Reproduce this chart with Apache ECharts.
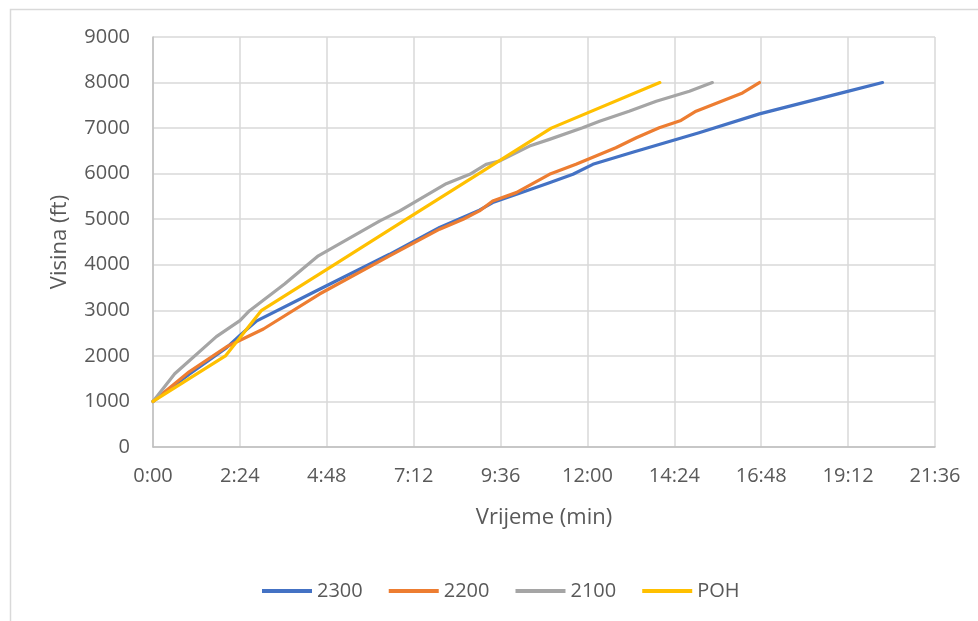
<!DOCTYPE html>
<html>
<head>
<meta charset="utf-8">
<script src="https://cdn.jsdelivr.net/npm/echarts@6/dist/echarts.min.js"></script>
<style>html,body{margin:0;padding:0;background:#fff}#c{width:978px;height:621px}</style>
</head>
<body>
<div id="c"></div>
<script>
// time in seconds, altitude in ft
const seriesNames = ['2300', '2200', '2100', 'POH'];
const s2300 = [[0,1000],[60,1600],[122,2180],[144,2450],[172,2770],[271,3430],[392,4230],[475,4820],[541,5200],[563,5365],[618,5621],[657,5803],[696,5986],[729,6205],[795,6470],[905,6900],[1005,7313],[1148,7795],[1209,8000]];
const s2200 = [[0,1000],[60,1650],[122,2200],[183,2590],[276,3358],[392,4197],[475,4781],[514,5000],[541,5182],[563,5402],[602,5584],[657,5986],[701,6205],[734,6387],[767,6569],[801,6788],[839,7007],[875,7168],[900,7372],[977,7773],[1005,8000]];
const s2100 = [[0,1000],[36,1607],[105,2424],[144,2774],[160,2993],[218,3577],[274,4197],[376,4964],[409,5182],[486,5781],[525,5986],[552,6205],[574,6278],[624,6606],[657,6753],[712,7007],[740,7153],[789,7372],[834,7591],[889,7810],[927,8000]];
const sPOH = [[0,1000],[120,2000],[180,3000],[300,4000],[420,5000],[540,6000],[660,7000],[840,8000]];
const colors = ['#4472C4', '#ED7D31', '#A5A5A5', '#FFC000'];
const dataSets = [s2300, s2200, s2100, sPOH];

const font = 'Open Sans';
const chart = echarts.init(document.getElementById('c'), null, {renderer: 'canvas'});
function fmt(v) {
  const m = Math.floor(v / 60), s = Math.round(v % 60);
  return m + ':' + (s < 10 ? '0' : '') + s;
}
chart.setOption({
  animation: false,
  backgroundColor: '#fff',
  textStyle: {fontFamily: font},
  graphic: [{
    type: 'rect', left: 8, top: 7, silent: true,
    shape: {width: 1000, height: 700},
    style: {fill: 'none', stroke: '#d9d9d9', lineWidth: 1.5}
  }],
  grid: {left: 153, right: 43, top: 37, bottom: 174, containLabel: false},
  legend: {
    data: seriesNames, left: 257, top: 576, itemWidth: 50, itemHeight: 4, itemGap: 26,
    icon: 'rect',
    textStyle: {fontFamily: font, fontSize: 20, color: '#595959', padding: [0, 0, 0, 0]}
  },
  xAxis: {
    type: 'value', min: 0, max: 1296, interval: 144,
    name: 'Vrijeme (min)', nameLocation: 'middle', nameGap: 60,
    nameTextStyle: {fontFamily: font, fontSize: 22, color: '#595959'},
    axisLine: {show: true, lineStyle: {color: '#bfbfbf', width: 1.5}},
    axisTick: {show: false},
    splitLine: {show: true, lineStyle: {color: '#d9d9d9', width: 1.5}},
    axisLabel: {formatter: fmt, margin: 19, fontFamily: font, fontSize: 20, color: '#595959'}
  },
  yAxis: {
    type: 'value', min: 0, max: 9000, interval: 1000,
    name: 'Visina (ft)', nameLocation: 'middle', nameGap: 82,
    nameTextStyle: {fontFamily: font, fontSize: 22, color: '#595959'},
    axisLine: {show: true, lineStyle: {color: '#bfbfbf', width: 1.5}},
    axisTick: {show: false},
    splitLine: {show: true, lineStyle: {color: '#d9d9d9', width: 1.5}},
    axisLabel: {formatter: v => String(v), margin: 23, fontFamily: font, fontSize: 20, color: '#595959'}
  },
  series: seriesNames.map((n, i) => ({
    name: n, type: 'line', data: dataSets[i], showSymbol: false, symbol: 'none',
    lineStyle: {color: colors[i], width: 3.2, cap: 'round', join: 'round'},
    itemStyle: {color: colors[i]}, smooth: false
  }))
});
</script>
</body>
</html>
